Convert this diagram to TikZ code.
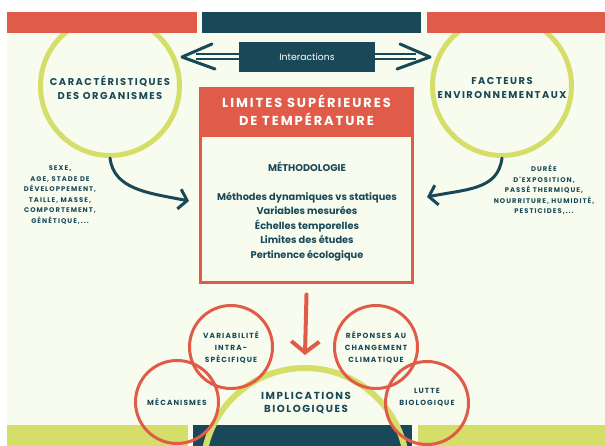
\documentclass[tikz,border=0pt]{standalone}
\usepackage{fontspec}
\setmainfont{Poppins}
\newfontfamily\capsfont{Poppins}[LetterSpace=15]
\usetikzlibrary{arrows.meta, positioning}
\definecolor{brick}{RGB}{224,91,72}
\definecolor{deep}{RGB}{25,73,88}
\definecolor{lime}{RGB}{212,222,104}
\definecolor{cream}{RGB}{248,252,238}

\begin{document}
\begin{tikzpicture}[
  x=1pt, y=-1pt,
  ring/.style  = {circle, draw=lime, line width=5pt, inner sep=0pt},
  rring/.style = {circle, draw=brick, line width=3pt, minimum size=83pt, inner sep=0pt},
  hd/.style    = {font=\capsfont\bfseries\fontsize{9.9}{14}\selectfont, text=deep, align=center, inner sep=0pt},
  side/.style  = {font=\capsfont\bfseries\fontsize{6.8}{10.5}\selectfont, text=deep, align=center, inner sep=0pt},
  small/.style = {font=\capsfont\bfseries\fontsize{7.4}{12}\selectfont, text=deep, align=center, inner sep=0pt},
  ax/.style    = {draw=deep, line width=3pt, line cap=round, -{Straight Barb[length=8pt, width=20pt]}},
  redax/.style = {draw=brick, line width=4pt, line cap=round, -{Straight Barb[length=11pt, width=28pt]}},
  dline/.style = {draw=deep, double=cream, double distance=3pt, line width=2pt},
  chev/.style  = {draw=deep, line width=3pt, line cap=round, line join=round},
]
\useasboundingbox (0,0) rectangle (605,446);
\fill[cream] (7,12) rectangle (605,446);

% =============== big rings, cut by the bars ===============
\begin{scope}
  \clip (7,12) rectangle (605,446);
  \node[ring, minimum size=139pt] (org) at (110,86) {};
  \node[ring, minimum size=139pt] (env) at (502,86) {};
  \fill[lime] (7,425) rectangle (188,446);
  \fill[lime] (418,425) rectangle (605,446);
  \fill[deep] (193,425) rectangle (412,446);
  \node[ring, line width=6pt, minimum size=204pt] (impl) at (305,470) {};
\end{scope}

% top bars
\fill[brick] (7,12) rectangle (197,33);
\fill[deep]  (202,12) rectangle (421,33);
\fill[brick] (427,12) rectangle (605,33);

\node[hd] at (110,88) {CARACTÉRISTIQUES\\DES ORGANISMES};
\node[hd] at (502,88) {FACTEURS\\ENVIRONNEMENTAUX};

\node[side] (ltxt) at (60,195)
  {SEXE,\\AGE, STADE DE\\DÉVELOPPEMENT,\\TAILLE, MASSE,\\COMPORTEMENT,\\GÉNÉTIQUE,...};
\node[side] (rtxt) at (544,190)
  {DURÉE\\D'EXPOSITION,\\PASSÉ THERMIQUE,\\NOURRITURE, HUMIDITÉ,\\PESTICIDES,...};

% =============== interactions ===============
\node[fill=deep, text=white, minimum width=136pt, minimum height=30pt,
      font=\fontsize{9.3}{10}\selectfont] (inter) at (307,57) {Interactions};
\coordinate (lend) at (196,57);
\coordinate (ltip) at (182,57);
\coordinate (lupA) at (212,44);
\coordinate (llwA) at (215,69);
\coordinate (rend) at (416,57);
\coordinate (rtip) at (430,57);
\coordinate (rupA) at (400,44);
\coordinate (rlwA) at (397,69);
\draw[dline] (inter.west) -- (lend);
\draw[dline] (inter.east) -- (rend);
\draw[chev] (lupA) -- (ltip) -- (llwA);
\draw[chev] (rupA) -- (rtip) -- (rlwA);

% =============== central box ===============
\node[draw=brick, line width=3pt, fill=cream, minimum width=212pt, minimum height=147pt,
      anchor=north, inner sep=0pt] (meth) at (306.5,134.5) {};
\node[fill=brick, minimum width=215pt, minimum height=47pt, inner sep=0pt,
      text=white, align=center, font=\capsfont\bfseries\fontsize{13}{18}\selectfont]
  (title) at (306.5,110.5) {LIMITES SUPÉRIEURES\\DE TEMPÉRATURE};
\node[text=deep, align=center, font=\bfseries\fontsize{9.8}{14.5}\selectfont, inner sep=0pt]
  (methtxt) at (307,211.5)
  {MÉTHODOLOGIE\\[14.5pt]Méthodes dynamiques vs statiques\\Variables mesurées\\
   Échelles temporelles\\Limites des études\\Pertinence écologique};

\coordinate (lgoal) at (189,201);
\coordinate (rgoal) at (427,197);
\draw[ax] (org.south) .. controls +(4,32) and +(-40,-8) .. (lgoal);
\draw[ax] (env.south) .. controls +(-4,32) and +(40,-8) .. (rgoal);

\draw[redax] ([yshift=-10pt]meth.south) -- ([yshift=10pt]impl.north);

% =============== implications ===============
\node[hd, font=\capsfont\bfseries\fontsize{10.2}{13}\selectfont] at (306,403) {IMPLICATIONS\\BIOLOGIQUES};
\node[rring] (mec) at (177,402) {};
\node[rring] (var) at (231,347) {};
\node[rring] (rep) at (376,347) {};
\node[rring] (lut) at (427,403) {};
\node[small] at (mec) {MÉCANISMES};
\node[small] at (var) {VARIABILITÉ\\INTRA-\\SPÉCIFIQUE};
\node[small] at (rep) {RÉPONSES AU\\CHANGEMENT\\CLIMATIQUE};
\node[small] at ([yshift=6pt]lut.center) {LUTTE\\BIOLOGIQUE};
\end{tikzpicture}
\end{document}
